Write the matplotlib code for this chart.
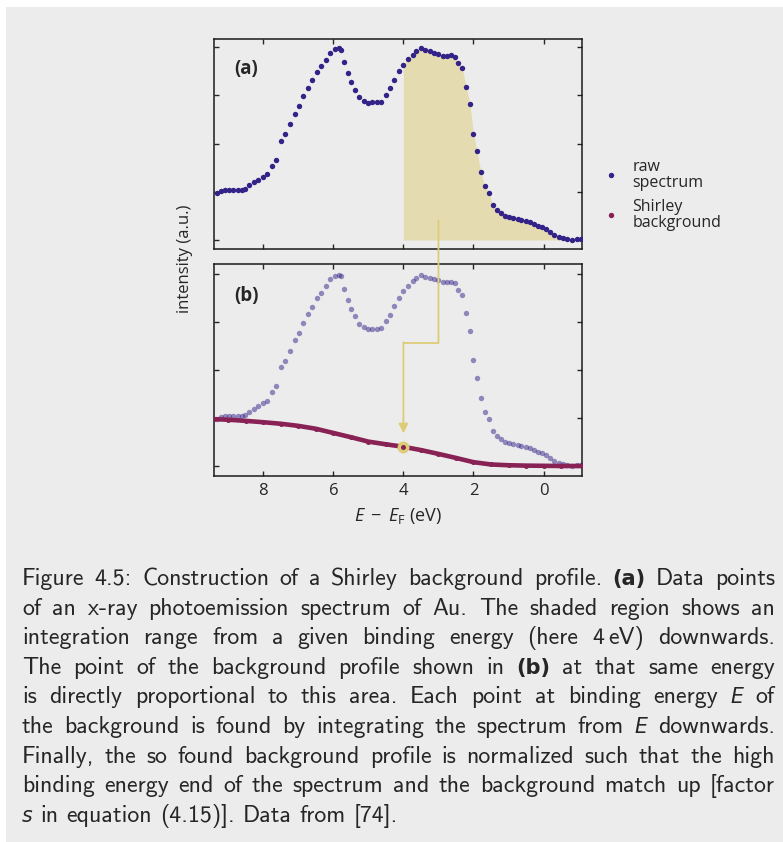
import matplotlib
matplotlib.use("Agg")
import matplotlib.pyplot as plt
import numpy as np
from matplotlib.lines import Line2D
from matplotlib.patches import ConnectionPatch, Rectangle

INDIGO, WINE, SAND = "#332288", "#882255", "#DDCC77"
PAGE = "#ececec"
INK = "#262626"

# Au valence band XPS, normalised intensity vs binding energy (eV)
energy = np.array([
    9.33, 9.21, 9.10, 8.97, 8.86, 8.73, 8.61, 8.51, 8.40, 8.27, 8.14, 8.02,
    7.90, 7.76, 7.64, 7.50, 7.37, 7.24, 7.11, 6.98, 6.86, 6.72, 6.60, 6.47,
    6.34, 6.21, 6.09, 5.96, 5.85, 5.78, 5.70, 5.59, 5.49, 5.37, 5.26, 5.13,
    5.02, 4.90, 4.76, 4.65, 4.51, 4.39, 4.26, 4.13, 4.00, 3.88, 3.74, 3.63,
    3.50, 3.37, 3.25, 3.12, 3.00, 2.88, 2.75, 2.63, 2.53, 2.43, 2.32, 2.21,
    2.10, 2.00, 1.90, 1.79, 1.68, 1.56, 1.45, 1.33, 1.22, 1.10, 0.98, 0.87,
    0.74, 0.63, 0.51, 0.40, 0.28, 0.16, 0.04, -0.08, -0.19, -0.31, -0.43,
    -0.55, -0.68, -0.82, -0.96, -1.08])
raw = np.array([
    0.245, 0.253, 0.259, 0.262, 0.262, 0.262, 0.262, 0.267, 0.283, 0.299, 0.311, 0.326,
    0.340, 0.385, 0.417, 0.514, 0.549, 0.601, 0.655, 0.694, 0.745, 0.790, 0.828, 0.873,
    0.901, 0.936, 0.972, 0.991, 0.995, 0.988, 0.924, 0.867, 0.820, 0.780, 0.740, 0.723,
    0.713, 0.714, 0.714, 0.718, 0.754, 0.789, 0.832, 0.877, 0.910, 0.938, 0.962, 0.979,
    0.997, 0.984, 0.979, 0.972, 0.967, 0.957, 0.957, 0.958, 0.952, 0.917, 0.891, 0.796,
    0.704, 0.552, 0.460, 0.355, 0.280, 0.244, 0.183, 0.156, 0.142, 0.123, 0.119, 0.116,
    0.111, 0.104, 0.099, 0.092, 0.081, 0.074, 0.066, 0.059, 0.042, 0.028, 0.014,
    0.009, 0.003, 0.002, 0.005, 0.004])

bg_energy = np.array([9.40, 9.00, 8.50, 8.00, 7.50, 7.00, 6.50, 6.00, 5.50, 5.00, 4.50,
                      4.00, 3.50, 3.00, 2.50, 2.00, 1.50, 1.00, 0.50, 0.00, -0.50, -1.10])
shirley = np.array([0.244, 0.241, 0.235, 0.228, 0.220, 0.209, 0.194, 0.172, 0.150, 0.127, 0.113,
                    0.100, 0.083, 0.063, 0.042, 0.020, 0.008, 0.004, 0.002, 0.001, 0.000, 0.000])

e_cut = 4.0  # integration starts here

plt.rcParams["font.family"] = ["Open Sans", "DejaVu Sans"]
plt.rcParams["mathtext.fontset"] = "custom"
plt.rcParams["mathtext.rm"] = "Open Sans"
plt.rcParams["mathtext.it"] = "Open Sans:italic"
plt.rcParams["text.color"] = INK
plt.rcParams["axes.labelcolor"] = INK
plt.rcParams["xtick.color"] = INK
plt.rcParams["ytick.color"] = INK

W, H = 783, 842
fig = plt.figure(figsize=(W / 100, H / 100), dpi=100, facecolor="white")
fig.add_artist(Rectangle((6 / W, 0), 1, 1 - 7 / H, transform=fig.transFigure,
                         facecolor=PAGE, edgecolor="none", zorder=-10))


def px_axes(l, t, r, b):
    return fig.add_axes([l / W, 1 - b / H, (r - l) / W, (b - t) / H])


axa = px_axes(214.3, 39.3, 581.7, 249.0)
axb = px_axes(214.3, 264.3, 581.7, 475.7)

for ax in (axa, axb):
    ax.set_facecolor("none")
    ax.set_xlim(9.4, -1.09)
    ax.set_xticks([8, 6, 4, 2, 0])
    ax.set_yticks([0, 0.25, 0.5, 0.75, 1.0])
    ax.tick_params(direction="in", top=True, right=True, length=3.6, width=1.0,
                   labelleft=False, labelsize=12, pad=5.5)
    for s in ax.spines.values():
        s.set_linewidth(1.1)
        s.set_color("#1a1a1a")
axa.set_ylim(-0.0467, 1.0415)
axb.set_ylim(-0.0505, 1.0505)
axa.tick_params(labelbottom=False)

# (a) raw spectrum with the integration range shaded
sel = energy <= e_cut
axa.fill_between(energy[sel], raw[sel], 0, color=SAND, alpha=0.5, lw=0, zorder=1)
axa.plot(energy, raw, "o", color=INDIGO, ms=3.9, mew=0, zorder=3)
axa.text(0.053, 0.858, "(a)", transform=axa.transAxes, fontsize=13.5, fontweight="bold",
         ha="left", va="center")

# (b) Shirley background on top of the faded spectrum
axb.plot(energy, raw, "o", color=INDIGO, alpha=0.5, ms=3.9, mew=0, zorder=2)
axb.plot(bg_energy, shirley, "-o", color=WINE, lw=3.3, ms=3.6, mew=0, zorder=3)
i_cut = np.argmin(np.abs(bg_energy - e_cut))
axb.plot(bg_energy[i_cut], shirley[i_cut], "o", ms=6.1, mfc=WINE, mec=SAND, mew=2.5, zorder=5)
axb.text(0.053, 0.848, "(b)", transform=axb.transAxes, fontsize=13.5, fontweight="bold",
         ha="left", va="center")
axb.set_xlabel(r"$E\;-\;E_\mathrm{F}$ (eV)", fontsize=13, labelpad=5)

# arrow from the shaded area down to the matching background point
con = ConnectionPatch(xyA=(3.0, 0.10), coordsA=axa.transData,
                      xyB=(3.0, 0.64), coordsB=axb.transData,
                      color=SAND, lw=1.3, zorder=4)
fig.add_artist(con)
axb.plot([3.0, e_cut], [0.64, 0.64], color=SAND, lw=1.3, solid_capstyle="butt", zorder=4)
axb.annotate("", xy=(e_cut, 0.17), xytext=(e_cut, 0.645),
             arrowprops=dict(arrowstyle="-|>", color=SAND, lw=1.3, mutation_scale=14,
                             shrinkA=0, shrinkB=0), zorder=4)

fig.text(185 / W, 1 - 259 / H, "intensity (a.u.)", rotation=90, fontsize=12,
         ha="center", va="center")

handles = [Line2D([], [], ls="", marker="o", ms=3.9, mew=0, color=INDIGO),
           Line2D([], [], ls="", marker="o", ms=3.9, mew=0, color=WINE)]
leg = fig.legend(handles, ["raw\nspectrum", "Shirley\nbackground"], loc="center left",
                 bbox_to_anchor=(603 / W, 1 - 195 / H), frameon=False, fontsize=11.5,
                 handlelength=1.0, handletextpad=0.85, labelspacing=0.5,
                 borderpad=0, borderaxespad=0)
for t in leg.get_texts():
    t.set_linespacing(1.0)

# justified caption
caption = [
    "Figure 4.5: Construction of a Shirley background profile. **(a)** Data points",
    "of an x-ray photoemission spectrum of Au. The shaded region shows an",
    "integration range from a given binding energy (here 4~eV) downwards.",
    "The point of the background profile shown in **(b)** at that same energy",
    "is directly proportional to this area. Each point at binding energy *E* of",
    "the background is found by integrating the spectrum from *E* downwards.",
    "Finally, the so found background profile is normalized such that the high",
    "binding energy end of the spectrum and the background match up [factor",
    "*s* in equation (4.15)]. Data from [74].",
]
cap_size = 17.2
cap_left, cap_right = 22.0, 775.0
cap_base, cap_step = 585.0, 29.6
renderer = fig.canvas.get_renderer()


def make_part(s, y):
    kw = dict(fontsize=cap_size, family="cmss10", color=INK)
    if s.startswith("**"):
        s = s.strip("*")
        kw.update(family="DejaVu Sans", fontweight="bold", fontsize=cap_size * 0.88)
    elif s.startswith("*"):
        s = s.strip("*")
        kw.update(family="DejaVu Sans", fontstyle="oblique", fontsize=cap_size * 0.86)
    t = fig.text(0, y, s, va="baseline", ha="left", **kw)
    return t, t.get_window_extent(renderer).width


thin = 0.18 * cap_size * 100 / 72
space = 0.33 * cap_size * 100 / 72
for n, line in enumerate(caption):
    y = 1 - (cap_base + n * cap_step) / H
    words = []
    for w in line.split(" "):
        parts = [make_part(p, y) for p in w.split("~")]
        width = sum(pw for _, pw in parts) + thin * (len(parts) - 1)
        words.append((parts, width))
    total = sum(w for _, w in words)
    last = n == len(caption) - 1
    gap = space if last else max((cap_right - cap_left - total) / (len(words) - 1), 0.2 * space)
    x = cap_left
    for parts, width in words:
        px = x
        for t, pw in parts:
            t.set_x(px / W)
            px += pw + thin
        x += width + gap

fig.savefig("out.png", dpi=100)
